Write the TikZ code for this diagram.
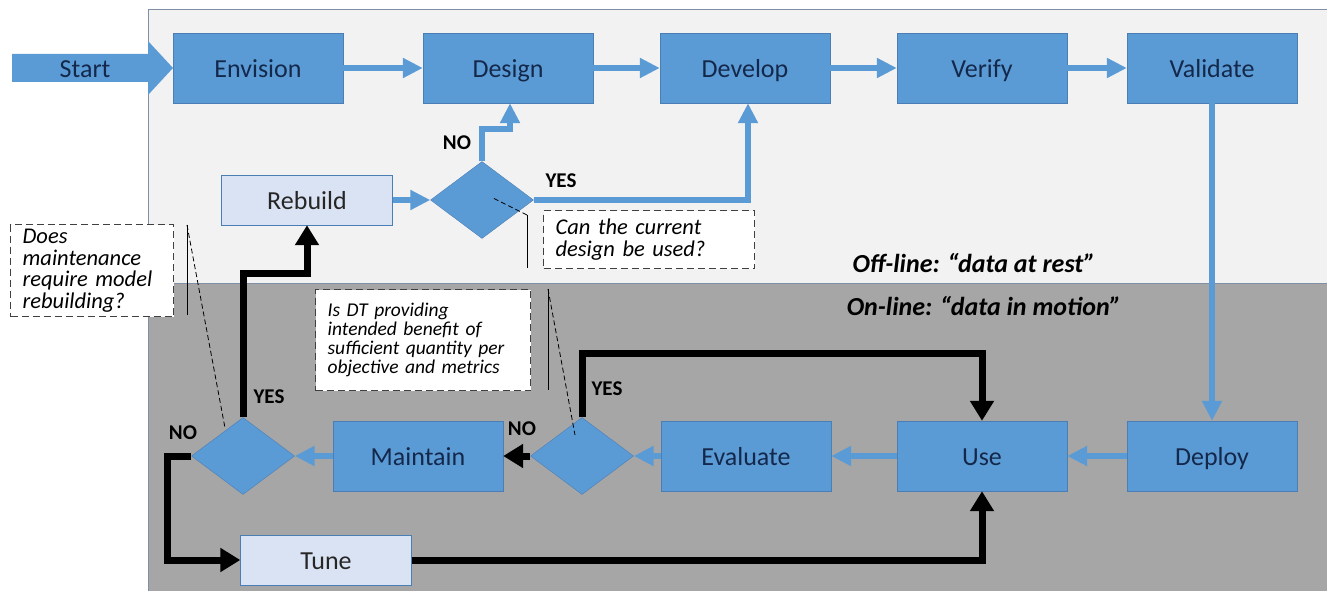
\documentclass[tikz,border=0pt]{standalone}
\usepackage{fontspec}
\setmainfont{Carlito}
\usetikzlibrary{arrows.meta,shapes.geometric}
\definecolor{boxblue}{HTML}{5B9BD5}
\definecolor{boxedge}{HTML}{4A7EB5}
\definecolor{paleblue}{HTML}{DAE3F3}
\definecolor{navy}{HTML}{14284B}
\definecolor{restgray}{HTML}{F2F2F2}
\definecolor{motiongray}{HTML}{A6A6A6}
\definecolor{frameedge}{HTML}{7F8FA6}

\begin{document}
\begin{tikzpicture}[x=1pt,y=-1pt,
  stage/.style={draw=boxedge,fill=boxblue,text=navy,minimum width=170pt,minimum height=70pt,inner sep=0pt,text height=21pt,text depth=2pt,font=\fontsize{26}{30}\selectfont},
  lightstage/.style={stage,fill=paleblue,text=black!85,minimum width=171pt,minimum height=50pt},
  decision/.style={diamond,draw=boxedge,fill=boxblue,minimum width=103pt,minimum height=77pt,inner sep=0pt},
  flow/.style={draw=boxblue,line width=6pt,-{Triangle[length=20pt,width=19pt]}},
  loop/.style={draw=black,line width=7pt,-{Triangle[length=20pt,width=23pt]}},
  answer/.style={font=\bfseries\fontsize{21}{24}\selectfont},
  question/.style={draw=black!75,dash pattern=on 7pt off 4pt,line width=1.3pt,fill=white,anchor=north west,align=left,inner xsep=12pt,inner ysep=0pt,font=\itshape\fontsize{22.5}{21.5}\selectfont},
  leader/.style={black,line width=0.8pt,dash pattern=on 5pt off 3pt},
  phase/.style={font=\bfseries\itshape\fontsize{26}{28}\selectfont}]
\useasboundingbox (0,0) rectangle (1327,591);

\fill[restgray] (148,10) rectangle (1327,283);
\fill[motiongray] (148,283) rectangle (1327,591);
\draw[frameedge,line width=1pt] (1327,10) -- (148,10) -- (148,591);
\draw[frameedge,line width=0.8pt] (148,283) -- (1327,283);

\node[phase] (offline) at (974,263) {Off-line: “data at rest”};
\node[phase] (online) at (984,306) {On-line: “data in motion”};

\fill[boxblue] (12,54) -- (148,54) -- (148,41) -- (173,68) -- (148,95) -- (148,82) -- (12,82) -- cycle;
\node[text=navy,font=\fontsize{26}{30}\selectfont,text height=21pt,text depth=2pt] (start) at (85,68) {Start};

\node[stage] (envision) at (258,68) {Envision};
\node[stage] (design) at (508,68) {Design};
\node[stage] (develop) at (745,68) {Develop};
\node[stage] (verify) at (982,68) {Verify};
\node[stage] (validate) at (1212,68) {Validate};

\node[lightstage] (rebuild) at (307,200) {Rebuild};
\node[decision] (reuse) at (482,200) {};

\node[stage] (deploy) at (1212,456) {Deploy};
\node[stage] (use) at (982,456) {Use};
\node[stage] (evaluate) at (746,456) {Evaluate};
\node[decision] (benefit) at (582,456) {};
\node[stage] (maintain) at (418,456) {Maintain};
\node[decision] (remodel) at (243,456) {};
\node[lightstage] (tune) at (326,560) {Tune};

\draw[flow] (envision) -- (design);
\draw[flow] (design) -- (develop);
\draw[flow] (develop) -- (verify);
\draw[flow] (verify) -- (validate);
\draw[flow] (validate) -- (deploy);
\draw[flow] (deploy) -- (use);
\draw[flow] (use) -- (evaluate);
\draw[flow] (evaluate) -- (benefit);
\draw[flow] (maintain) -- (remodel);
\draw[flow] (rebuild) -- (reuse);
\draw[flow] (reuse.north) -- ++(0,-32) -| ([xshift=2pt]design.south);
\draw[flow] (reuse.east) -| ([xshift=3pt]develop.south);

\draw[loop] (benefit.west) -- (maintain.east);
\draw[loop] (benefit.north) -- ++(0,-64) -| (use.north);
\draw[loop] (tune.east) -| (use.south);
\draw[loop] (remodel.north) -- ++(0,-144) -| (rebuild.south);
\draw[loop] (remodel.west) -- ++(-24,0) |- (tune.west);

\node[answer] (noA) at (457,143) {NO};
\node[answer] (yesA) at (561,181) {YES};
\node[answer] (yesB) at (607,389) {YES};
\node[answer] (noB) at (522,429) {NO};
\node[answer] (yesC) at (269,397) {YES};
\node[answer] (noC) at (183,433) {NO};

\node[question,text width=187pt,minimum height=58pt] (qreuse) at (543,210) {Can the current\\design be used?};
\draw[line width=0.8pt] (527,215) coordinate (barA) -- (527,268);
\draw[leader] (barA) -- (493,198);

\node[question,text width=139pt,minimum height=92pt] (qremodel) at (10,224) {Does\\maintenance\\require model\\rebuilding?};
\draw[line width=0.8pt] (187,225) coordinate (barB) -- (187,315);
\draw[leader] (barB) -- (225,428);

\node[question,text width=191pt,minimum height=101pt,font=\itshape\fontsize{19.5}{19}\selectfont] (qbenefit) at (315,289) {Is DT providing\\intended benefit of\\sufficient quantity per\\objective and metrics};
\draw[line width=0.8pt] (548,289) coordinate (barC) -- (548,390);
\draw[leader] (barC) -- (575,435);
\end{tikzpicture}
\end{document}
